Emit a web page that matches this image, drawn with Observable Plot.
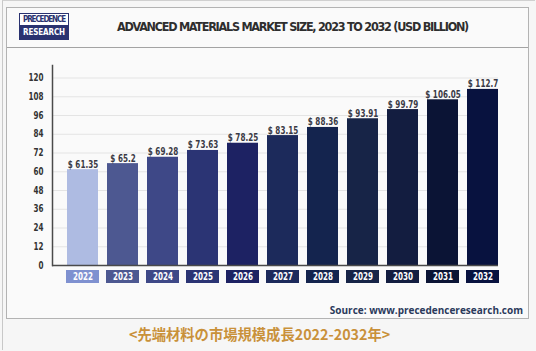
<!DOCTYPE html>
<html><head><meta charset="utf-8">
<script src="https://cdn.jsdelivr.net/npm/d3@7"></script>
<script src="https://cdn.jsdelivr.net/npm/@observablehq/plot@0.6"></script>
<style>
html,body{margin:0;padding:0;background:#f6f6f6;width:536px;height:351px;overflow:hidden;position:relative}
#outer{position:absolute;left:2px;top:0;width:532px;height:349px;border-left:1px solid #c8c8c8;border-top:1px solid #d0d0d0}
#card{position:absolute;left:6px;top:7px;width:521px;height:310px;border:1px solid #b3b3b3;background:#fafafa}
#hline{position:absolute;left:7px;top:47px;width:521px;height:1px;background:#a3a3a3}
.logo{position:absolute;left:19px;width:50px;text-align:center;font:bold 8px 'DejaVu Sans Condensed',sans-serif;white-space:nowrap;box-sizing:border-box}
#logoTop{top:13px;height:13px;line-height:11px;background:#fff;border:1.2px solid #2a3270;color:#2a3270}
#logoBot{top:26px;height:13.5px;line-height:13.5px;background:#2a3270;color:#fff}
#title{position:absolute;left:0;top:18px;width:585px;text-align:center;font:bold 12.5px 'DejaVu Sans Condensed',sans-serif;color:#2e2e2e;line-height:17px;white-space:nowrap}
#chart{position:absolute;left:0;top:48px}
#source{position:absolute;right:13px;top:303px;font:700 10px 'Open Sans',sans-serif;color:#2b3a5c;line-height:14px;white-space:nowrap}
#caption{position:absolute;left:129px;top:324px;font:700 14.3px 'Noto Sans CJK JP',sans-serif;color:#c9913a;line-height:20px;white-space:nowrap}
</style></head><body>
<div id="outer"></div>
<div id="card"></div>
<div id="hline"></div>
<div id="logoTop" class="logo">PRECEDENCE</div>
<div id="logoBot" class="logo">RESEARCH</div>
<div id="title">ADVANCED MATERIALS MARKET SIZE, 2023 TO 2032 (USD BILLION)</div>
<div id="chart"></div>
<div id="source">Source: www.precedenceresearch.com</div>
<div id="caption">&lt;先端材料の市場規模成長2022-2032年&gt;</div>
<script>
const years = ["2022","2023","2024","2025","2026","2027","2028","2029","2030","2031","2032"];
const values = [61.35, 65.2, 69.28, 73.63, 78.25, 83.15, 88.36, 93.91, 99.79, 106.05, 112.7];
const valueLabels = ["$ 61.35","$ 65.2","$ 69.28","$ 73.63","$ 78.25","$ 83.15","$ 88.36","$ 93.91","$ 99.79","$ 106.05","$ 112.7"];
const yTicks = [0, 12, 24, 36, 48, 60, 72, 84, 96, 108, 120];
const palette = ["#aebbe2","#4d5891","#3e4887","#2b3474","#1d2263","#1c2a5b","#14244e","#172447","#131d40","#0b1435","#08123f"];
const boxPalette = ["#7f91d0","#4d5891","#3e4887","#2b3474","#1d2263","#1c2a5b","#14244e","#172447","#131d40","#0b1435","#08123f"];

const data = years.map((year, i) => ({year, value: values[i], label: valueLabels[i], box: boxPalette[i]}));
const COND = "'DejaVu Sans Condensed',sans-serif";

// fit a text block to a target width by adjusting its letter spacing
function fitWidth(el, target) {
  const probe = document.createElement("span");
  probe.textContent = el.textContent;
  el.textContent = "";
  el.appendChild(probe);
  const natural = probe.getBoundingClientRect().width;
  el.style.letterSpacing = ((target - natural) / probe.textContent.length).toFixed(3) + "px";
}
fitWidth(document.getElementById("title"), 351);
fitWidth(document.getElementById("logoTop"), 42);
fitWidth(document.getElementById("logoBot"), 42);

const chart = Plot.plot({
  width: 536, height: 250,
  marginLeft: 52, marginRight: 38, marginTop: 17, marginBottom: 33,
  style: {background: "transparent", overflow: "visible"},
  x: {domain: years, paddingInner: 0.2346, paddingOuter: 0.1235, align: 1, axis: null},
  y: {domain: [0, 128], axis: null},
  color: {domain: years, range: palette},
  marks: [
    Plot.gridY(yTicks.filter(t => t > 0), {stroke: "#e4e4e4", strokeOpacity: 1}),
    Plot.barY(data, {x: "year", y: "value", fill: "year"}),
    Plot.text(data, {x: "year", y: "value", text: "label", lineAnchor: "bottom", dy: -2, fill: "#3a3a46", fontFamily: COND, fontWeight: "bold", fontSize: 10}),
    Plot.axisY(yTicks, {tickSize: 0, tickPadding: 9, label: null, color: "#333", fontFamily: COND, fontWeight: "bold", fontSize: 10}),
    Plot.frame({anchor: "left", stroke: "#4a4a4a", strokeWidth: 1.5}),
    Plot.ruleY([0], {stroke: "#4a4a4a", strokeWidth: 1.5}),
    Plot.barY(data, {x: "year", y1: 0, y2: 0, fill: "box", insetTop: 5, insetBottom: -18, insetLeft: -1, insetRight: -1}),
    Plot.text(data, {x: "year", y: 0, text: "year", dy: 11.5, fill: "white", fontFamily: COND, fontWeight: "bold", fontSize: 10})
  ]
});
document.getElementById("chart").appendChild(chart);
// narrow the condensed labels to match the reference's tall narrow face
chart.querySelectorAll("text").forEach(t => {
  const w = t.getComputedTextLength();
  if (w > 0) {
    t.setAttribute("textLength", (w * 0.8).toFixed(1));
    t.setAttribute("lengthAdjust", "spacingAndGlyphs");
  }
});
</script>
</body></html>
